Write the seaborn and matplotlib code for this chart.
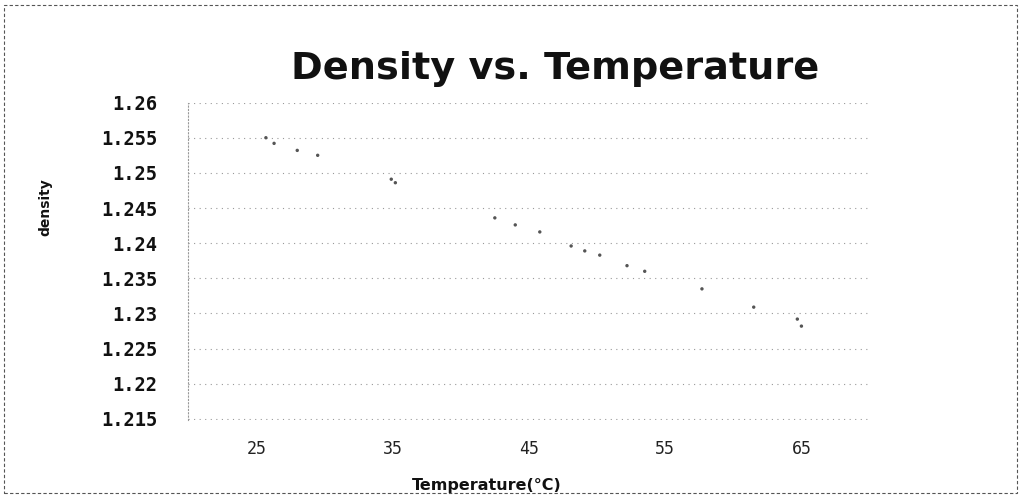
import numpy as np
import pandas as pd
import matplotlib
matplotlib.use('Agg')
import matplotlib.pyplot as plt
import seaborn as sns
from matplotlib.patches import Rectangle

# values
temperature = [25.7, 26.3, 28.0, 29.5, 34.9, 35.2, 42.5, 44.0, 45.8, 48.1,
               49.1, 50.2, 52.2, 53.5, 57.7, 61.5, 64.7, 65.0]
density = [1.2550, 1.2542, 1.2532, 1.2525, 1.2491, 1.2486, 1.2436, 1.2426, 1.2416, 1.2396,
           1.2389, 1.2383, 1.2368, 1.2360, 1.2335, 1.2309, 1.2292, 1.2282]
x_ticks = [25, 35, 45, 55, 65]
y_ticks = [1.215, 1.22, 1.225, 1.23, 1.235, 1.24, 1.245, 1.25, 1.255, 1.26]
y_ticklabels = ['1.215', '1.22', '1.225', '1.23', '1.235', '1.24', '1.245', '1.25', '1.255', '1.26']

df = pd.DataFrame({'temp': temperature, 'density': density})

sns.set_style('white')
plt.rcParams['font.family'] = ['DejaVu Sans']

fig = plt.figure(figsize=(10.23, 4.98), dpi=100)
ax = fig.add_axes([0.184, 0.156, 0.666, 0.638])

sns.scatterplot(data=df, x='temp', y='density', ax=ax, s=6, color='#555555',
                edgecolor='none', marker='o')

ax.set_xlim(20, 70)
ax.set_ylim(1.2148, 1.26)
ax.set_xticks(x_ticks)
ax.set_xticklabels([str(t) for t in x_ticks], family='DejaVu Sans Mono', fontsize=12, color='#222222')
ax.set_yticks(y_ticks)
ax.set_yticklabels(y_ticklabels, family='DejaVu Sans Mono', fontsize=13.5,
                   fontweight='bold', color='#111111')
ax.tick_params(axis='y', length=0, pad=22)
ax.tick_params(axis='x', length=0, pad=14)

ax.yaxis.grid(True, linestyle=(0, (1, 4)), color='#999999', linewidth=0.8)
for side in ['top', 'right', 'bottom']:
    ax.spines[side].set_visible(False)
ax.spines['left'].set_linestyle((0, (1, 2)))
ax.spines['left'].set_color('#999999')
ax.spines['left'].set_linewidth(0.8)

ax.set_xlabel('Temperature(°C)', fontsize=11.5, fontweight='bold', color='#111111')
ax.xaxis.set_label_coords((487 - 188) / 682, -0.18)
ax.set_ylabel('density', fontsize=10, fontweight='bold', color='#111111')
ax.yaxis.set_label_coords(-0.2, 0.67)

fig.text(0.5425, 0.862, 'Density vs. Temperature', ha='center', va='center',
         fontsize=27.5, fontweight='bold', color='#111111')

# dashed frame around the whole chart
fig.patches.append(Rectangle((0.004, 0.01), 0.99, 0.98, transform=fig.transFigure,
                             fill=False, edgecolor='#555555', linestyle=(0, (3, 2)),
                             linewidth=0.8))

fig.savefig('out.png', dpi=100)
